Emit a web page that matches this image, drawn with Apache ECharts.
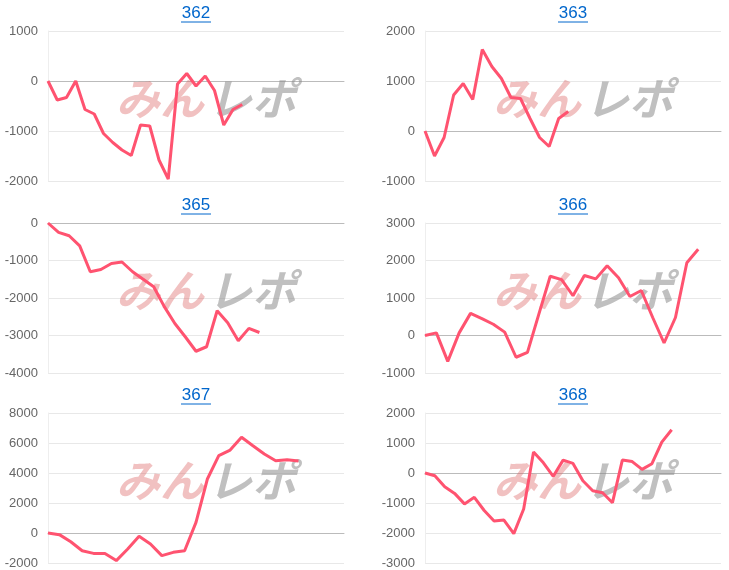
<!DOCTYPE html><html><head><meta charset="utf-8"><script src="https://cdn.jsdelivr.net/npm/echarts@6/dist/echarts.min.js"></script>
<style>html,body{margin:0;padding:0;background:#fff}#c{width:729px;height:570px}</style></head><body><div id="c"></div><script>
const titles=['362','363','365','366','367','368'];
const catCounts=[33,32,29,27,27,31];
const s362=[0,-380,-330,0,-570,-660,-1050,-1230,-1380,-1490,-880,-900,-1580,-1960,-60,150,-100,100,-190,-880,-570,-470];
const s363=[0,-500,-130,720,950,630,1630,1290,1050,670,650,250,-130,-310,250,390];
const s365=[0,-250,-340,-610,-1300,-1240,-1080,-1040,-1300,-1500,-1700,-2230,-2680,-3040,-3420,-3300,-2340,-2660,-3140,-2810,-2920];
const s366=[0,70,-690,70,590,450,300,90,-580,-450,570,1580,1490,1060,1600,1510,1860,1540,1040,1200,480,-200,480,1940,2300];
const s367=[0,-110,-580,-1180,-1360,-1360,-1840,-1070,-220,-730,-1510,-1290,-1180,710,3600,5160,5530,6380,5820,5270,4820,4890,4800];
const s368=[0,-90,-460,-680,-1030,-810,-1250,-1600,-1570,-2020,-1200,700,340,-110,430,320,-260,-590,-660,-990,430,380,120,310,1030,1440];
const series=[s362,s363,s365,s366,s367,s368];
const yMin=[-2000,-1000,-4000,-1000,-2000,-3000], yMax=[1000,2000,0,3000,8000,2000], yInt=[1000,1000,1000,1000,2000,1000];
const L=[48,425], W=296, T=[31,223,413], H=150;
const grid=[],xAxis=[],yAxis=[],ser=[],graphic=[];
for(let i=0;i<6;i++){
 const c=i%2,r=Math.floor(i/2);
 grid.push({left:L[c],top:T[r],width:W,height:H});
 xAxis.push({type:'category',gridIndex:i,boundaryGap:false,data:Array.from({length:catCounts[i]},(_, k)=>String(k+1)),axisLabel:{show:false},axisTick:{show:false},axisLine:{onZero:true,lineStyle:{color:'#bbb'}}});
 yAxis.push({type:'value',gridIndex:i,min:yMin[i],max:yMax[i],interval:yInt[i],axisLine:{show:true,lineStyle:{color:'#eee'}},axisLabel:{color:'#666',fontSize:13,fontFamily:'Arial,Liberation Sans',margin:10,formatter:v=>String(v)},splitLine:{lineStyle:{color:'#e8e8e8'}}});
 ser.push({type:'line',xAxisIndex:i,yAxisIndex:i,data:series[i],showSymbol:false,lineStyle:{color:'#ff5370',width:3},itemStyle:{color:'#ff5370'},z:5});
 const cx=L[c]+W/2, ty=T[r]-18;
 graphic.push({type:'text',x:cx,y:ty,z:10,style:{text:titles[i],font:'17px Arial, "Liberation Sans"',fill:'#0066cc',align:'center',verticalAlign:'middle'}});
 graphic.push({type:'line',z:10,shape:{x1:cx-15,y1:ty+9,x2:cx+15,y2:ty+9},style:{stroke:'#0066cc',lineWidth:1}});
 const wx=L[c]+68, wy=T[r]+H/2-8;
 graphic.push({type:'text',x:wx,y:wy,z:1,style:{text:'みん',font:'italic bold 44px "Noto Sans CJK JP"',fill:'rgba(220,100,100,0.4)',verticalAlign:'middle'}});
 graphic.push({type:'text',x:wx+92,y:wy,z:1,style:{text:'レポ',font:'italic bold 44px "Noto Sans CJK JP"',fill:'rgba(140,140,140,0.55)',verticalAlign:'middle'}});
}
const ch=echarts.init(document.getElementById('c'));
ch.setOption({animation:false,grid,xAxis,yAxis,series:ser,graphic});
</script></body></html>
